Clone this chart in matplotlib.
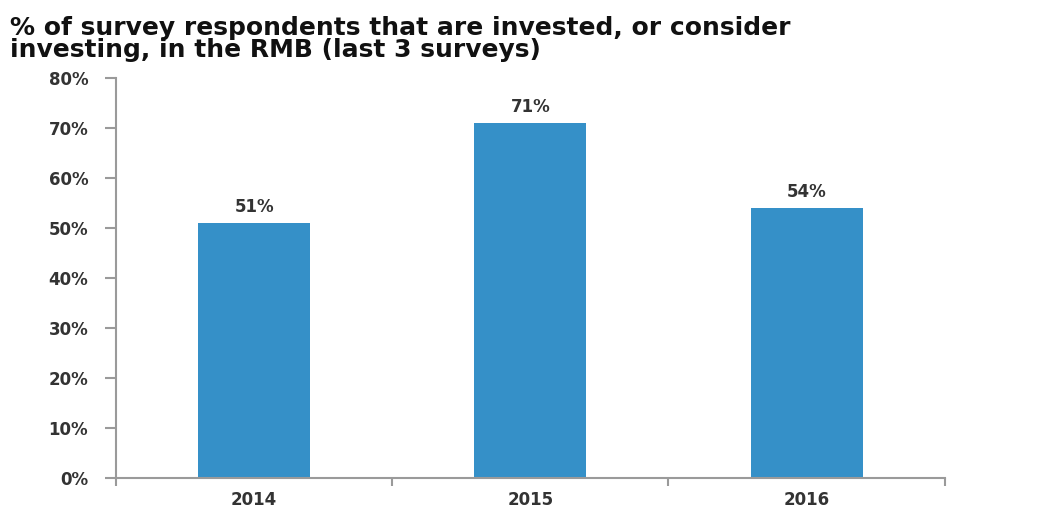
import matplotlib
matplotlib.use('Agg')
import matplotlib.pyplot as plt
from matplotlib.ticker import FixedLocator

# Survey results
years = ['2014', '2015', '2016']
shares = [51, 71, 54]
yticks = [0, 10, 20, 30, 40, 50, 60, 70, 80]

barColor = '#3590c8'
textColor = '#333333'
axisColor = '#9a9a9a'

plt.rcParams['font.family'] = 'DejaVu Sans'

fig = plt.figure(figsize=(10.45, 5.07), dpi=100)
ax = fig.add_axes([0.111, 0.057, 0.793, 0.789])

xs = list(range(len(years)))
ax.bar(xs, shares, width=0.405, color=barColor, zorder=2)

# value labels above each bar
for x, v in zip(xs, shares):
    ax.text(x, v + 1.4, f'{v}%', ha='center', va='bottom',
            fontsize=12, color=textColor, fontweight='semibold')

ax.set_xlim(-0.5, len(years) - 0.5)
ax.set_ylim(0, 80)
ax.set_yticks(yticks)
ax.set_yticklabels([f'{t}%' for t in yticks], fontsize=12,
                   fontweight='bold', color=textColor)
ax.set_xticks(xs)
ax.set_xticklabels(years, fontsize=12, fontweight='bold', color=textColor)
ax.tick_params(axis='x', which='major', length=0, pad=9)
ax.xaxis.set_minor_locator(FixedLocator([-0.5, 0.5, 1.5, 2.5]))
ax.tick_params(axis='x', which='minor', length=6, width=1.5, color=axisColor)
ax.tick_params(axis='y', length=8, width=1.5, color=axisColor, pad=12)

for side in ['top', 'right']:
    ax.spines[side].set_visible(False)
for side in ['left', 'bottom']:
    ax.spines[side].set_color(axisColor)
    ax.spines[side].set_linewidth(1.5)

fig.text(0.01, 0.968,
         '% of survey respondents that are invested, or consider\n'
         'investing, in the RMB (last 3 surveys)',
         ha='left', va='top', fontsize=18, fontweight='bold',
         color='#111111', linespacing=0.9)

fig.savefig('out.png', dpi=100)
